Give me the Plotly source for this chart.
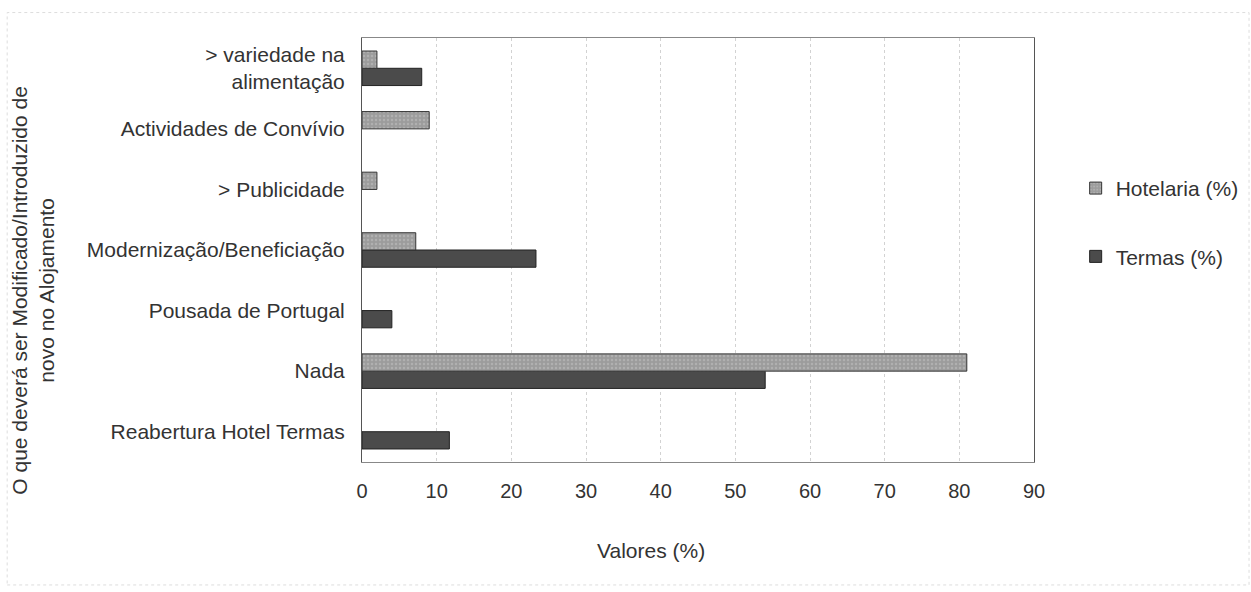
import plotly.graph_objects as go

categories = ["> variedade na<br>alimentação", "Actividades de Convívio", "> Publicidade",
              "Modernização/Beneficiação", "Pousada de Portugal", "Nada",
              "Reabertura Hotel Termas"]
hotelaria = [2, 9, 2, 7.2, 0, 81, 0]
termas = [8, 0, 0, 23.3, 4, 54, 11.7]
x_ticks = [0, 10, 20, 30, 40, 50, 60, 70, 80, 90]

FS = 21
TXT = "#333333"
font = dict(family="Liberation Sans, Arial, sans-serif", size=FS, color=TXT)


def nz(vals):
    # zero-valued bars are not drawn in the reference
    return [v if v != 0 else None for v in vals]


fig = go.Figure()
fig.add_trace(go.Bar(y=categories, x=nz(termas), orientation="h", name="Termas (%)",
                     marker=dict(color="#4b4b4b", line=dict(color="#222222", width=1)),
                     legendgroup="t", legendrank=2))
fig.add_trace(go.Bar(y=categories, x=nz(hotelaria), orientation="h", name="Hotelaria (%)",
                     marker=dict(color="#9c9c9c", line=dict(color="#333333", width=1),
                                 pattern=dict(shape=".", fgcolor="#c4c4c4", size=4,
                                              solidity=0.3, fillmode="overlay")),
                     legendgroup="h", legendrank=1))

fig.update_layout(
    width=1251, height=592,
    margin=dict(l=362, r=217, t=38, b=130, autoexpand=False),
    paper_bgcolor="white", plot_bgcolor="white",
    font=font,
    barmode="group", bargap=0.43, bargroupgap=0,
    showlegend=True,
    legend=dict(x=1.062, y=0.565, xanchor="left", yanchor="middle",
                traceorder="grouped", tracegroupgap=38, itemwidth=30,
                font=dict(size=FS, color=TXT), bgcolor="rgba(0,0,0,0)"),
    xaxis=dict(range=[0, 90], tickvals=x_ticks, showgrid=True,
               gridcolor="#d2d2d2", griddash="dot", gridwidth=1,
               showline=True, linecolor="#888888", mirror=True,
               zeroline=False, ticks="", ticklabelstandoff=11,
               tickfont=dict(size=FS - 1, color=TXT)),
    yaxis=dict(categoryorder="array", categoryarray=categories[::-1],
               showline=True, linecolor="#555555", mirror=True,
               ticks="", ticklabelstandoff=12, showgrid=False,
               tickfont=dict(size=FS, color=TXT)),
    annotations=[
        dict(text="O que deverá ser Modificado/Introduzido de<br>novo no Alojamento",
             xref="paper", yref="paper", x=-0.489, y=0.405, textangle=-90,
             showarrow=False, font=dict(size=FS, color=TXT),
             xanchor="center", yanchor="middle"),
        dict(text="Valores (%)", xref="paper", yref="paper", x=0.43, y=-0.208,
             showarrow=False, font=dict(size=FS, color=TXT),
             xanchor="center", yanchor="middle"),
    ],
    shapes=[dict(type="rect", xref="paper", yref="paper",
                 x0=-0.528, x1=1.32, y0=-0.29, y1=1.06,
                 line=dict(color="#dddddd", width=1, dash="dot"))],
)

fig.write_html("out.html")
